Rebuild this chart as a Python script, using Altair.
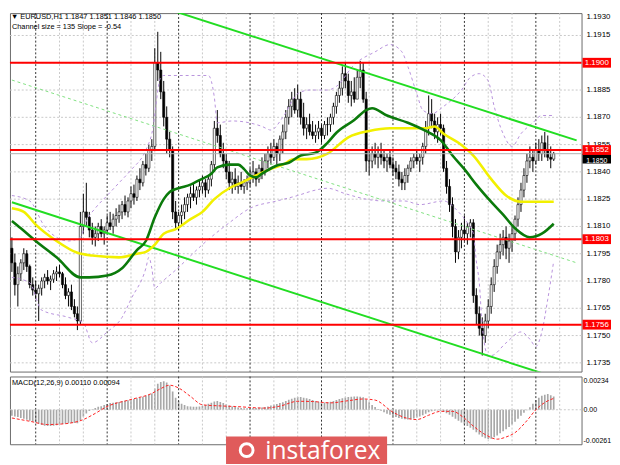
import json
import altair as alt
import pandas as pd

# ---------------- data (EURUSD H1) ----------------
first_open = 1.1798
highs = [
    1.1804, 1.1795, 1.1788, 1.1792, 1.1798, 1.1797, 1.1789, 1.1782, 1.1780, 1.1778,
    1.1782, 1.1784, 1.1786, 1.1783, 1.1786, 1.1788, 1.1789, 1.1785, 1.1782, 1.1776,
    1.1778, 1.1770, 1.1766, 1.1818, 1.1828, 1.1834, 1.1818, 1.1812, 1.1810, 1.1812,
    1.1814, 1.1810, 1.1816, 1.1818, 1.1817, 1.1820, 1.1822, 1.1824, 1.1827, 1.1826,
    1.1832, 1.1833, 1.1838, 1.1842, 1.1846, 1.1850, 1.1855, 1.1858, 1.1908, 1.1917,
    1.1906, 1.1890, 1.1876, 1.1862, 1.1854, 1.1824, 1.1818, 1.1822, 1.1826, 1.1828,
    1.1832, 1.1834, 1.1832, 1.1836, 1.1838, 1.1836, 1.1838, 1.1846, 1.1868, 1.1874,
    1.1866, 1.1856, 1.1850, 1.1846, 1.1840, 1.1842, 1.1838, 1.1840, 1.1836, 1.1838,
    1.1842, 1.1846, 1.1842, 1.1844, 1.1848, 1.1850, 1.1854, 1.1856, 1.1858, 1.1856,
    1.1860, 1.1866, 1.1874, 1.1880, 1.1884, 1.1886, 1.1888, 1.1884, 1.1878, 1.1870,
    1.1872, 1.1868, 1.1866, 1.1868, 1.1866, 1.1868, 1.1870, 1.1872, 1.1878, 1.1884,
    1.1890, 1.1898, 1.1900, 1.1894, 1.1890, 1.1892, 1.1896, 1.1901, 1.1900, 1.1884,
    1.1852, 1.1854, 1.1856, 1.1854, 1.1856, 1.1852, 1.1850, 1.1852, 1.1848, 1.1846,
    1.1844, 1.1840, 1.1842, 1.1844, 1.1848, 1.1850, 1.1852, 1.1850, 1.1856, 1.1868,
    1.1882, 1.1880, 1.1872, 1.1870, 1.1872, 1.1866, 1.1846, 1.1836, 1.1826, 1.1814,
    1.1808, 1.1812, 1.1816, 1.1812, 1.1814, 1.1814, 1.1776, 1.1766, 1.1760, 1.1762,
    1.1770, 1.1782, 1.1792, 1.1800, 1.1806, 1.1808, 1.1810, 1.1806, 1.1810, 1.1816,
    1.1826, 1.1834, 1.1842, 1.1850, 1.1854, 1.1852, 1.1856, 1.1858, 1.1860, 1.1862,
    1.1860, 1.1854, 1.1851,
]
lows = [
    1.1785, 1.1772, 1.1766, 1.1780, 1.1786, 1.1785, 1.1776, 1.1772, 1.1770, 1.1758,
    1.1772, 1.1776, 1.1778, 1.1775, 1.1779, 1.1780, 1.1782, 1.1776, 1.1770, 1.1766,
    1.1764, 1.1760, 1.1753, 1.1756, 1.1806, 1.1810, 1.1804, 1.1800, 1.1799, 1.1802,
    1.1804, 1.1800, 1.1806, 1.1808, 1.1806, 1.1810, 1.1812, 1.1814, 1.1816, 1.1815,
    1.1820, 1.1822, 1.1824, 1.1830, 1.1832, 1.1838, 1.1840, 1.1846, 1.1852, 1.1890,
    1.1880, 1.1865, 1.1850, 1.1848, 1.1814, 1.1808, 1.1808, 1.1810, 1.1814, 1.1818,
    1.1820, 1.1824, 1.1822, 1.1826, 1.1828, 1.1826, 1.1828, 1.1832, 1.1840, 1.1856,
    1.1848, 1.1842, 1.1836, 1.1830, 1.1828, 1.1830, 1.1828, 1.1830, 1.1828, 1.1830,
    1.1832, 1.1834, 1.1832, 1.1834, 1.1836, 1.1838, 1.1842, 1.1844, 1.1846, 1.1844,
    1.1846, 1.1850, 1.1858, 1.1866, 1.1870, 1.1872, 1.1870, 1.1866, 1.1860, 1.1858,
    1.1860, 1.1858, 1.1856, 1.1858, 1.1856, 1.1858, 1.1860, 1.1862, 1.1866, 1.1872,
    1.1878, 1.1882, 1.1886, 1.1878, 1.1876, 1.1878, 1.1880, 1.1886, 1.1878, 1.1840,
    1.1838, 1.1842, 1.1844, 1.1842, 1.1844, 1.1842, 1.1840, 1.1842, 1.1838, 1.1836,
    1.1832, 1.1830, 1.1830, 1.1834, 1.1840, 1.1842, 1.1844, 1.1840, 1.1844, 1.1850,
    1.1860, 1.1864, 1.1858, 1.1856, 1.1860, 1.1840, 1.1828, 1.1818, 1.1804, 1.1790,
    1.1792, 1.1798, 1.1802, 1.1800, 1.1804, 1.1768, 1.1756, 1.1750, 1.1739, 1.1746,
    1.1754, 1.1762, 1.1774, 1.1784, 1.1792, 1.1794, 1.1792, 1.1790, 1.1796, 1.1802,
    1.1810, 1.1818, 1.1826, 1.1834, 1.1842, 1.1840, 1.1844, 1.1846, 1.1846, 1.1848,
    1.1846, 1.1842, 1.1846,
]
closes = [
    1.1790, 1.1778, 1.1784, 1.1790, 1.1795, 1.1788, 1.1778, 1.1775, 1.1773, 1.1776,
    1.1780, 1.1782, 1.1780, 1.1781, 1.1784, 1.1785, 1.1784, 1.1778, 1.1772, 1.1774,
    1.1766, 1.1762, 1.1758, 1.1810, 1.1818, 1.1815, 1.1808, 1.1804, 1.1806, 1.1810,
    1.1806, 1.1808, 1.1812, 1.1810, 1.1814, 1.1816, 1.1818, 1.1822, 1.1818, 1.1824,
    1.1828, 1.1826, 1.1836, 1.1834, 1.1844, 1.1842, 1.1852, 1.1854, 1.1900, 1.1896,
    1.1884, 1.1870, 1.1858, 1.1852, 1.1818, 1.1812, 1.1816, 1.1818, 1.1822, 1.1826,
    1.1828, 1.1826, 1.1830, 1.1832, 1.1834, 1.1830, 1.1836, 1.1844, 1.1864, 1.1860,
    1.1850, 1.1846, 1.1840, 1.1834, 1.1836, 1.1832, 1.1834, 1.1832, 1.1834, 1.1836,
    1.1838, 1.1840, 1.1836, 1.1842, 1.1840, 1.1846, 1.1850, 1.1848, 1.1854, 1.1850,
    1.1858, 1.1862, 1.1870, 1.1876, 1.1880, 1.1874, 1.1880, 1.1870, 1.1864, 1.1866,
    1.1862, 1.1860, 1.1862, 1.1864, 1.1860, 1.1866, 1.1866, 1.1870, 1.1876, 1.1882,
    1.1886, 1.1894, 1.1890, 1.1882, 1.1884, 1.1880, 1.1892, 1.1896, 1.1880, 1.1846,
    1.1846, 1.1850, 1.1848, 1.1850, 1.1848, 1.1846, 1.1848, 1.1844, 1.1842, 1.1840,
    1.1836, 1.1834, 1.1838, 1.1842, 1.1846, 1.1848, 1.1846, 1.1848, 1.1854, 1.1864,
    1.1872, 1.1868, 1.1862, 1.1866, 1.1864, 1.1842, 1.1832, 1.1822, 1.1810, 1.1796,
    1.1804, 1.1808, 1.1806, 1.1810, 1.1812, 1.1772, 1.1762, 1.1754, 1.1750, 1.1758,
    1.1766, 1.1778, 1.1788, 1.1796, 1.1800, 1.1804, 1.1798, 1.1802, 1.1806, 1.1814,
    1.1822, 1.1830, 1.1838, 1.1846, 1.1848, 1.1846, 1.1852, 1.1850, 1.1856, 1.1852,
    1.1848, 1.1847, 1.1850,
]
macd_hist = [
    -0.00050, -0.00055, -0.00060, -0.00068, -0.00075, -0.00082, -0.00090, -0.00098, -0.00105, -0.00115,
    -0.00125, -0.00132, -0.00135, -0.00135, -0.00132, -0.00128, -0.00122, -0.00118, -0.00115, -0.00112,
    -0.00110, -0.00110, -0.00112, -0.00085, -0.00055, -0.00030, -0.00010, 0.00005, 0.00015, 0.00025,
    0.00030, 0.00040, 0.00048, 0.00055, 0.00058, 0.00062, 0.00065, 0.00070, 0.00075, 0.00078,
    0.00082, 0.00088, 0.00095, 0.00100, 0.00108, 0.00115, 0.00125, 0.00135, 0.00175, 0.00215,
    0.00230, 0.00235, 0.00225, 0.00200, 0.00150, 0.00100, 0.00070, 0.00050, 0.00040, 0.00030,
    0.00028, 0.00025, 0.00025, 0.00028, 0.00032, 0.00040, 0.00050, 0.00058, 0.00068, 0.00072,
    0.00065, 0.00055, 0.00045, 0.00035, 0.00028, 0.00022, 0.00018, 0.00015, 0.00012, 0.00012,
    0.00012, 0.00014, 0.00015, 0.00016, 0.00018, 0.00022, 0.00028, 0.00035, 0.00042, 0.00048,
    0.00055, 0.00062, 0.00072, 0.00082, 0.00092, 0.00100, 0.00105, 0.00105, 0.00100, 0.00095,
    0.00088, 0.00080, 0.00072, 0.00066, 0.00062, 0.00060, 0.00062, 0.00066, 0.00072, 0.00080,
    0.00088, 0.00096, 0.00102, 0.00106, 0.00108, 0.00110, 0.00110, 0.00108, 0.00104, 0.00085,
    0.00062, 0.00040, 0.00022, 0.00006, -0.00008, -0.00020, -0.00032, -0.00042, -0.00052, -0.00060,
    -0.00068, -0.00074, -0.00078, -0.00080, -0.00078, -0.00072, -0.00064, -0.00055, -0.00045, -0.00032,
    -0.00020, -0.00012, -0.00008, -0.00006, -0.00009, -0.00016, -0.00028, -0.00042, -0.00058, -0.00075,
    -0.00090, -0.00105, -0.00120, -0.00135, -0.00148, -0.00165, -0.00185, -0.00205, -0.00222, -0.00235,
    -0.00242, -0.00240, -0.00228, -0.00212, -0.00195, -0.00178, -0.00160, -0.00142, -0.00122, -0.00100,
    -0.00075, -0.00050, -0.00025, -0.00005, 0.00020, 0.00050, 0.00080, 0.00100, 0.00115, 0.00125,
    0.00130, 0.00120, 0.00110,
]
signal_bars = [0, 6, 12, 18, 24, 28, 32, 40, 47, 50, 53, 56, 60, 64, 70, 75, 85, 90, 96, 101,
               107, 113, 118, 122, 128, 132, 136, 140, 144, 148, 152, 155, 159, 163, 166, 169,
               173, 176, 179, 182]
signal_vals = [-0.00068, -0.00095, -0.00122, -0.00115, -0.00081, -0.00030, 0.00027, 0.00085,
               0.00135, 0.00175, 0.00203, 0.00180, 0.00110, 0.00041, 0.00032, 0.00027, 0.00014,
               0.00030, 0.00070, 0.00068, 0.00057, 0.00075, 0.00089, 0.00080, -0.00020,
               -0.00065, -0.00081, -0.00045, -0.00013, -0.00013, -0.00070, -0.00135, -0.00205,
               -0.00243, -0.00225, -0.00189, -0.00090, 0.00000, 0.00060, 0.00094]

ma_green_bars = [0, 3, 8, 15, 23, 26, 32, 37, 42, 45, 48, 51, 53, 56, 60, 63, 67, 69, 73, 76,
                 78, 80, 82, 84, 89, 93, 97, 102, 106, 109, 115, 119, 121, 126, 133, 139, 144,
                 148, 152, 156, 161, 165, 169, 174, 178, 182]
ma_green_vals = [1.1813, 1.1809, 1.1802, 1.1793, 1.1782, 1.1782, 1.1783, 1.1787, 1.1797, 1.1802,
                 1.1815, 1.1825, 1.1829, 1.1831, 1.1833, 1.18355, 1.1839, 1.18425, 1.1844, 1.1844,
                 1.18415, 1.1838, 1.1837, 1.1839, 1.18435, 1.1845, 1.1849, 1.18505, 1.1856,
                 1.18615, 1.18685, 1.1874, 1.1875, 1.1871, 1.1867, 1.18625, 1.18575, 1.1849,
                 1.18415, 1.1833, 1.18235, 1.18165, 1.1809, 1.1804, 1.1806, 1.18115]
ma_yellow_bars = [0, 4, 8, 15, 22, 27, 36, 42, 45, 48, 51, 55, 60, 64, 68, 73, 77, 82, 86, 91,
                  95, 99, 106, 113, 120, 127, 134, 139, 142, 145, 150, 155, 161, 166, 171, 182]
ma_yellow_vals = [1.1820, 1.1818, 1.1811, 1.1802, 1.17955, 1.1794, 1.1793, 1.1795, 1.1796,
                  1.1800, 1.1806, 1.18085, 1.1814, 1.1818, 1.1825, 1.1831, 1.1834, 1.1838,
                  1.1841, 1.1844, 1.1847, 1.1847, 1.1850, 1.1859, 1.18625, 1.1864, 1.1864,
                  1.1864, 1.1865, 1.1861, 1.1856, 1.1849, 1.1836, 1.1827, 1.18236, 1.18236]

bb_upper_bars = [0, 6, 11, 19, 23, 25, 28, 32, 36, 40, 45, 47, 50, 51, 66, 68, 69, 74, 84, 87,
                 91, 96, 100, 106, 109, 115, 122, 127, 131, 133, 136, 138, 141, 145, 151, 154,
                 157, 160, 162, 165, 168, 171, 175, 178, 182]
bb_upper_vals = [1.1827, 1.1824, 1.1810, 1.1802, 1.1804, 1.1813, 1.1820, 1.1827, 1.1834, 1.1841,
                 1.1852, 1.1861, 1.1892, 1.1893, 1.1893, 1.1881, 1.1867, 1.1868, 1.1865, 1.1863,
                 1.1870, 1.1883, 1.1885, 1.1885, 1.1887, 1.1899, 1.1906, 1.1910, 1.1906, 1.1898,
                 1.1883, 1.1874, 1.1872, 1.1876, 1.1885, 1.1892, 1.1894, 1.1890, 1.1876, 1.1861,
                 1.1854, 1.1861, 1.1867, 1.1871, 1.1871]
bb_lower_bars = [0, 6, 10, 19, 24, 27, 32, 37, 40, 45, 46, 47, 48, 50, 55, 64, 73, 80, 89, 96,
                 102, 106, 112, 119, 125, 132, 137, 145, 150, 153, 155, 156, 157, 158, 160, 161,
                 166, 171, 174, 176, 178, 180, 182]
bb_lower_vals = [1.1782, 1.1779, 1.1764, 1.1760, 1.1757, 1.1746, 1.1752, 1.1760, 1.1770, 1.1787,
                 1.1793, 1.1787, 1.1776, 1.1779, 1.1786, 1.1800, 1.1812, 1.1820, 1.1824, 1.1827,
                 1.1830, 1.1831, 1.1828, 1.1825, 1.1824, 1.1824, 1.1822, 1.1824, 1.1818, 1.1812,
                 1.1806, 1.1791, 1.1779, 1.1755, 1.1739, 1.1739, 1.1746, 1.1752, 1.1748, 1.1744,
                 1.1752, 1.1770, 1.1791]

channel_bars = [0, 189.7]
channel_upper = [1.1957, 1.18573]
channel_middle = [1.18905, 1.17900]
channel_lower = [1.18233, 1.17232]

levels = [1.1900, 1.1852, 1.1803, 1.1756]
level_labels = ["1.1900", "1.1852", "1.1803", "1.1756"]
last_price = [1.1850]
last_price_label = ["1.1850"]

price_ticks = [1.1735, 1.1750, 1.1765, 1.1780, 1.1795, 1.1810, 1.1825,
               1.1840, 1.1855, 1.1870, 1.1885, 1.1915]     # 1.1900 sits under its red box
price_tick_labels = ["1.1735", "1.1750", "1.1765", "1.1780", "1.1795", "1.1810", "1.1825",
                     "1.1840", "1.1855", "1.1870", "1.1885", "1.1915"]
top_tick_label = ["1.1930"]      # on the very top edge of the panel
macd_ticks = [0.00234, 0.0, -0.00261]
macd_tick_labels = ["0.00234", "0.00", "-0.00261"]

time_ticks = [1, 16, 32, 48, 64, 80, 96, 112, 128, 144, 160, 176]
time_labels = ["8 Sep 2020", "9 Sep 08:00", "10 Sep 00:00", "10 Sep 16:00", "11 Sep 08:00",
               "14 Sep 00:00", "14 Sep 16:00", "15 Sep 08:00", "16 Sep 00:00", "16 Sep 16:00",
               "17 Sep 08:00", "18 Sep 00:00"]
grid_bars = [16, 24, 40, 48, 64, 72, 88, 96, 112, 120, 136, 144, 160, 168, 184]
day_bars = [8, 32, 56, 80, 104, 128, 152, 176]

header_line1 = ["\u25bc EURUSD,H1  1.1847 1.1851 1.1846 1.1850"]
header_line2 = ["Channel size = 135 Slope = -0.54"]
macd_title = ["MACD(12,26,9) 0.00110 0.00094"]
logo_text = ["instaforex"]

# ---------------- tables ----------------
n = len(closes)
opens = [first_open] + closes[:-1]
candles = pd.DataFrame({"i": list(range(n)), "open": opens, "high": highs,
                        "low": lows, "close": closes})
candles["hi"] = candles[["high", "open", "close"]].max(axis=1)
candles["lo"] = candles[["low", "open", "close"]].min(axis=1)
candles["bt"] = candles[["open", "close"]].max(axis=1)
candles["bb"] = candles[["open", "close"]].min(axis=1)

macd_df = pd.DataFrame({"i": list(range(n)), "v": macd_hist})
sig_df = pd.DataFrame({"i": signal_bars, "v": signal_vals})
green_df = pd.DataFrame({"i": ma_green_bars, "v": ma_green_vals})
yellow_df = pd.DataFrame({"i": ma_yellow_bars, "v": ma_yellow_vals})
up_df = pd.DataFrame({"i": bb_upper_bars, "v": bb_upper_vals})
lo_df = pd.DataFrame({"i": bb_lower_bars, "v": bb_lower_vals})
chan_df = pd.DataFrame({
    "i": channel_bars * 3,
    "v": channel_upper + channel_middle + channel_lower,
    "k": ["upper"] * 2 + ["middle"] * 2 + ["lower"] * 2,
})
lev_df = pd.DataFrame({"v": levels, "t": level_labels})
last_df = pd.DataFrame({"v": last_price, "t": last_price_label})
grid_df = pd.DataFrame({"i": grid_bars})
day_df = pd.DataFrame({"i": day_bars})
hgrid_df = pd.DataFrame({"v": price_ticks + [levels[0]]})
plab_df = pd.DataFrame({"v": price_ticks, "t": price_tick_labels})
mlab_df = pd.DataFrame({"v": macd_ticks, "t": macd_tick_labels})

W = 582
H_MAIN = 365
H_MACD = 69
FONT = "Liberation Sans"
Y_MIN, Y_MAX = 1.17302, 1.19273

xs = alt.Scale(domain=[1, 189.7], nice=False, zero=False)
ys = alt.Scale(domain=[Y_MIN, Y_MAX], nice=False, zero=False)
ms = alt.Scale(domain=[-0.00285, 0.00275], nice=False, zero=False)

X = alt.X("i:Q", scale=xs, axis=None)

def ymain(field, axis=None):
    return alt.Y(field, scale=ys, axis=axis, title=None)

price_axis = alt.Axis(orient="right", values=price_ticks, labels=False, grid=False,
                      tickSize=3, tickColor="#555", domain=False, title=None)

hgrid = alt.Chart(hgrid_df).mark_rule(color="#c8c8c8", strokeDash=[2, 2], strokeWidth=1).encode(
    y=ymain("v:Q", price_axis))
vgrid = alt.Chart(grid_df).mark_rule(color="#c8c8c8", strokeDash=[2, 2], strokeWidth=1).encode(x=X)
dgrid = alt.Chart(day_df).mark_rule(color="#303030", strokeDash=[2, 2], strokeWidth=1).encode(x=X)

wicks = alt.Chart(candles).mark_rule(color="black", strokeWidth=1, clip=True).encode(
    x=X, y=ymain("lo:Q"), y2="hi:Q")
bodies = alt.Chart(candles).mark_bar(size=2.2, stroke="black", strokeWidth=0.6, clip=True).encode(
    x=X, y=ymain("bb:Q"), y2="bt:Q",
    color=alt.condition("datum.close >= datum.open", alt.value("white"), alt.value("black")))

BAND = "#b892dc"
bands_up = alt.Chart(up_df).mark_line(color=BAND, strokeDash=[3, 3], strokeWidth=1,
                                      interpolate="monotone", clip=True).encode(x=X, y=ymain("v:Q"))
bands_lo = alt.Chart(lo_df).mark_line(color=BAND, strokeDash=[3, 3], strokeWidth=1,
                                      interpolate="monotone", clip=True).encode(x=X, y=ymain("v:Q"))

chan_solid = alt.Chart(chan_df).transform_filter("datum.k != 'middle'").mark_line(
    color="#22dd22", strokeWidth=2, clip=True).encode(x=X, y=ymain("v:Q"), detail="k:N")
chan_mid = alt.Chart(chan_df).transform_filter("datum.k == 'middle'").mark_line(
    color="#7fe07f", strokeWidth=1, strokeDash=[3, 3], clip=True).encode(x=X, y=ymain("v:Q"))

yellow = alt.Chart(yellow_df).mark_line(color="#f2f000", strokeWidth=2.6, interpolate="monotone",
                                        clip=True).encode(x=X, y=ymain("v:Q"))
green = alt.Chart(green_df).mark_line(color="#0b7a0b", strokeWidth=2.6, interpolate="monotone",
                                      clip=True).encode(x=X, y=ymain("v:Q"))

red_lines = alt.Chart(lev_df).mark_rule(color="#ff0000", strokeWidth=2).encode(y=ymain("v:Q"))
last_line = alt.Chart(last_df).mark_rule(color="#b0b0b0", strokeWidth=1).encode(y=ymain("v:Q"))

# right-hand price labels (drawn as text so the level boxes can sit on top of them)
plabels = alt.Chart(plab_df).mark_text(align="left", baseline="middle", fontSize=8,
                                        font=FONT, color="#000").encode(
    x=alt.value(W + 5), y=ymain("v:Q"), text="t:N")

BOX_X = W + 15.5
last_box = alt.Chart(last_df).mark_tick(orient="horizontal", size=29, thickness=10,
                                        color="#000000", opacity=1, yOffset=5).encode(
    x=alt.value(BOX_X), y=ymain("v:Q"))
last_txt = alt.Chart(last_df).mark_text(color="white", fontSize=7, font=FONT, dy=7).encode(
    x=alt.value(BOX_X), y=ymain("v:Q"), text="t:N")
red_box = alt.Chart(lev_df).mark_tick(orient="horizontal", size=29, thickness=10,
                                      color="#ff0000", opacity=1).encode(
    x=alt.value(BOX_X), y=ymain("v:Q"))
red_txt = alt.Chart(lev_df).mark_text(color="white", fontSize=8, font=FONT).encode(
    x=alt.value(BOX_X), y=ymain("v:Q"), text="t:N")
top_lbl = alt.Chart(pd.DataFrame({"t": top_tick_label})).mark_text(
    align="left", baseline="top", fontSize=8, font=FONT, color="#000").encode(
    x=alt.value(W + 5), y=alt.value(0), text="t:N")

header1 = alt.Chart(pd.DataFrame({"t": header_line1})).mark_text(
    align="left", baseline="middle", fontSize=7.5, font=FONT, color="#000").encode(
    x=alt.value(1), y=alt.value(4.5), text="t:N")
header2 = alt.Chart(pd.DataFrame({"t": header_line2})).mark_text(
    align="left", baseline="middle", fontSize=7.5, font=FONT, color="#000").encode(
    x=alt.value(2), y=alt.value(14.5), text="t:N")

main = alt.layer(
    hgrid, vgrid, dgrid, wicks, bodies, bands_up, bands_lo, chan_mid, chan_solid,
    yellow, green, red_lines, last_line, plabels, last_box, last_txt, red_box, red_txt,
    top_lbl, header1, header2,
).properties(width=W, height=H_MAIN)

# ---------------- MACD panel ----------------
label_expr = json.dumps(time_labels) + "[round(datum.value / 16)]"
time_axis = alt.Axis(values=time_ticks, labelExpr=label_expr, labelAlign="left",
                     labelFontSize=7.5, labelFont=FONT, labelColor="#000", tickSize=3,
                     tickColor="#555", grid=False, domain=False, labelPadding=2,
                     labelOverlap=False, labelFlush=False, labelBound=False, title=None)
macd_axis = alt.Axis(orient="right", values=macd_ticks, labels=False, grid=False,
                     tickSize=2, tickColor="#555", domain=False, title=None)

XM = alt.X("i:Q", scale=xs, axis=time_axis, title=None)
XN = alt.X("i:Q", scale=xs, axis=None)

m_vgrid = alt.Chart(grid_df).mark_rule(color="#c8c8c8", strokeDash=[2, 2]).encode(x=XN)
m_dgrid = alt.Chart(day_df).mark_rule(color="#303030", strokeDash=[2, 2]).encode(x=XN)
zero_df = pd.DataFrame({"v": [0.0]})
m_zero = alt.Chart(zero_df).mark_rule(color="#c8c8c8", strokeDash=[2, 2]).encode(
    y=alt.Y("v:Q", scale=ms, axis=None))
hist = alt.Chart(macd_df).mark_bar(size=1.7, color="#a8a8a8", clip=True).encode(
    x=XM, y=alt.Y("v:Q", scale=ms, axis=macd_axis, title=None), y2=alt.datum(0))
sig = alt.Chart(sig_df).mark_line(color="#ff2020", strokeWidth=1, strokeDash=[3, 2],
                                  interpolate="monotone", clip=True).encode(
    x=XN, y=alt.Y("v:Q", scale=ms, axis=None))
mlabels = alt.Chart(mlab_df).mark_text(align="left", baseline="middle", fontSize=7.1,
                                        font=FONT, color="#000").encode(
    x=alt.value(W + 2), y=alt.Y("v:Q", scale=ms, axis=None), text="t:N")
mtitle = alt.Chart(pd.DataFrame({"t": macd_title})).mark_text(
    align="left", baseline="middle", fontSize=7.5, font=FONT, color="#000").encode(
    x=alt.value(2), y=alt.value(7), text="t:N")

logo_df = pd.DataFrame({"t": logo_text})
logo_box = alt.Chart(logo_df).mark_rect(color="#e05b5b").encode(
    x=alt.value(220), x2=alt.value(384), y=alt.value(61), y2=alt.value(89))
logo_ring = alt.Chart(logo_df).mark_point(
    shape="circle", filled=False, color="white", size=170, strokeWidth=3, opacity=1).encode(
    x=alt.value(241), y=alt.value(75))
logo_txt = alt.Chart(logo_df).mark_text(
    align="left", baseline="alphabetic", fontSize=25, font="Open Sans", color="white").encode(
    x=alt.value(260), y=alt.value(84), text="t:N")

macd = alt.layer(hist, m_vgrid, m_dgrid, m_zero, sig, mlabels, mtitle, logo_box, logo_ring,
                 logo_txt).properties(width=W, height=H_MACD)

chart = alt.vconcat(main, macd, spacing=3).properties(
    padding=0, background="white"
).configure_view(stroke="#6a6a6a", strokeWidth=1)

chart.save("out.html", embed_options={"renderer": "svg", "actions": False})
